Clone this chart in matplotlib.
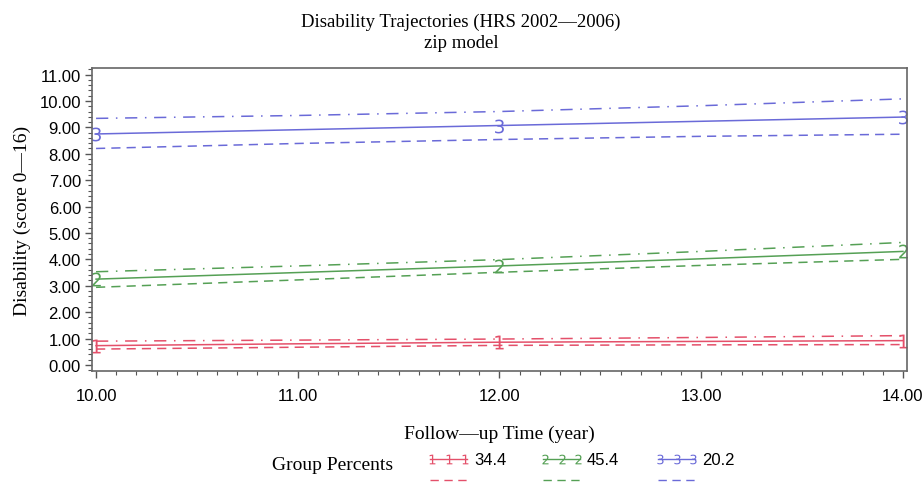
import matplotlib
matplotlib.use('Agg')
import matplotlib.pyplot as plt
from matplotlib.lines import Line2D
from matplotlib.ticker import MultipleLocator, FormatStrFormatter

# follow-up time (year)
years = [10, 11, 12, 13, 14]

# estimated trajectories
g1_est = [0.73, 0.80, 0.86, 0.89, 0.92]
g1_hi = [0.90, 0.94, 0.98, 1.04, 1.11]
g1_lo = [0.60, 0.67, 0.74, 0.76, 0.77]

g2_est = [3.25, 3.50, 3.75, 4.02, 4.30]
g2_hi = [3.53, 3.75, 3.99, 4.30, 4.64]
g2_lo = [2.94, 3.22, 3.51, 3.77, 4.00]

g3_est = [8.75, 8.91, 9.07, 9.23, 9.39]
g3_hi = [9.34, 9.45, 9.60, 9.82, 10.08]
g3_lo = [8.20, 8.39, 8.54, 8.66, 8.74]

group_labels = ['1', '2', '3']
group_pcts = ['34.4', '45.4', '20.2']
colors = ['#e4506a', '#55a055', '#6a6ad8']

serif = 'Liberation Serif'
sans = 'Liberation Sans'

fig = plt.figure(figsize=(9.22, 5.02), dpi=100)
ax = fig.add_axes([0.0998, 0.259, 0.8839, 0.6036])

groups = [(g1_est, g1_hi, g1_lo), (g2_est, g2_hi, g2_lo), (g3_est, g3_hi, g3_lo)]
for (est, hi, lo), lab, col in zip(groups, group_labels, colors):
    ax.plot(years, est, color=col, lw=1.1, marker='$' + lab + '$', markersize=10,
            markevery=[0, 2, 4], markeredgewidth=0, clip_on=False)
    ax.plot(years, hi, color=col, lw=1.1, dashes=(8, 5, 1, 5))
    ax.plot(years, lo, color=col, lw=1.1, dashes=(6, 4))

ax.set_xlim(9.98, 14.02)
ax.set_ylim(-0.23, 11.25)
ax.xaxis.set_major_locator(MultipleLocator(1))
ax.xaxis.set_minor_locator(MultipleLocator(0.1))
ax.yaxis.set_major_locator(MultipleLocator(1))
ax.yaxis.set_minor_locator(MultipleLocator(0.2))
ax.xaxis.set_major_formatter(FormatStrFormatter('%.2f'))
ax.yaxis.set_major_formatter(FormatStrFormatter('%.2f'))
ax.tick_params(which='major', length=5, width=1, color='#555555', labelsize=12, pad=3)
ax.tick_params(which='minor', length=3, width=0.8, color='#555555')
ax.tick_params(axis='x', pad=7)
for lbl in ax.get_xticklabels() + ax.get_yticklabels():
    lbl.set_fontfamily(sans)
for sp in ax.spines.values():
    sp.set_color('#666666')
    sp.set_linewidth(1.2)

fig.text(0.5, 0.956, 'Disability Trajectories (HRS 2002\u20142006)', ha='center', va='center',
         fontsize=13.5, family=serif)
fig.text(0.5, 0.913, 'zip model', ha='center', va='center', fontsize=13.5, family=serif)
ax.set_xlabel('Follow\u2014up Time (year)', fontsize=14, family=serif, labelpad=16)
ax.set_ylabel('Disability (score 0\u201416)', fontsize=14, family=serif, labelpad=6)

# legend drawn by hand in figure pixels
W, H = 922, 502
def fx(px):
    return px / W
def fy(py):
    return 1 - py / H

fig.text(fx(272), fy(466), 'Group Percents', ha='left', va='center', fontsize=14, family=serif)
starts = [430, 543, 658]
for x0, lab, pct, col in zip(starts, group_labels, group_pcts, colors):
    xs = [fx(x0), fx(x0 + 37)]
    fig.add_artist(Line2D(xs, [fy(460), fy(460)], color=col, lw=1.0))
    fig.add_artist(Line2D([fx(x0 + 2), fx(x0 + 18.5), fx(x0 + 35)], [fy(460)] * 3, color=col,
                          lw=0, marker='$' + lab + '$', markersize=7, markeredgewidth=0))
    fig.add_artist(Line2D(xs, [fy(481), fy(481)], color=col, lw=1.0, dashes=(6, 4)))
    fig.text(fx(x0 + 44), fy(461), pct, ha='left', va='center', fontsize=12, family=sans)

fig.savefig('out.png', dpi=100)
